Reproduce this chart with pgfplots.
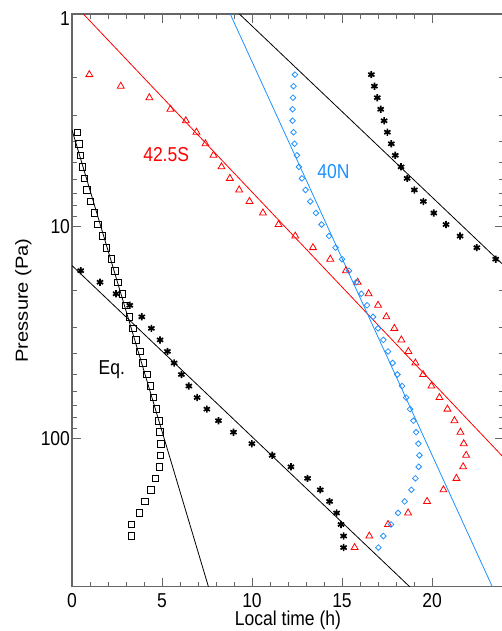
\documentclass[border=0pt]{standalone}
\usepackage{fontspec}
\setmainfont{Liberation Sans}
\usepackage{graphicx}
\usepackage{pgfplots}
\pgfplotsset{compat=1.18}
\usepackage{pgfplotstable}
\usetikzlibrary{calc}
\definecolor{idlblue}{RGB}{30,144,255}
\newcommand{\st}[1]{\scalebox{1}[1.15]{#1}}
\newcommand{\fs}{\fontsize{17.5}{21}\selectfont}

\pgfplotstableread{
x p
0.295 3.607
0.389 4.089
0.462 4.634
0.573 5.252
0.684 5.952
0.834 6.747
1.018 7.645
1.240 8.667
1.429 9.822
1.685 11.13
1.908 12.62
2.186 14.30
2.375 16.20
2.558 18.37
2.798 20.82
2.987 23.59
3.198 26.74
3.376 30.30
3.543 34.35
3.765 38.93
3.949 44.12
4.155 50.00
4.355 56.66
4.522 64.22
4.689 72.79
4.822 82.50
4.894 93.50
4.950 105.9
4.911 120.1
4.855 136.1
4.633 154.3
4.394 174.8
4.043 198.2
3.743 224.6
3.298 254.5
3.298 288.5
}\eqdata

\pgfplotstableread{
x p
0.484 16.20
1.557 18.37
2.447 20.82
3.209 23.59
3.877 26.74
4.410 30.30
4.894 34.35
5.300 38.93
5.673 44.12
6.079 50.00
6.491 56.66
6.952 64.22
7.492 72.79
8.137 82.50
8.971 93.50
9.994 105.9
11.123 120.1
12.164 136.1
13.087 154.3
13.793 174.8
14.310 198.2
14.700 224.6
14.944 254.5
15.089 288.5
15.089 327.0
}\eqbdata

\pgfplotstableread{
x p
16.63 1.931
16.80 2.189
16.96 2.480
17.15 2.811
17.34 3.186
17.52 3.607
17.74 4.089
17.96 4.634
18.28 5.252
18.62 5.952
19.02 6.747
19.52 7.645
20.10 8.667
20.78 9.822
21.56 11.13
22.49 12.62
23.54 14.30
}\eqbwrap

\pgfplotstableread{
x p
0.962 1.931
2.709 2.189
4.299 2.480
5.467 2.811
6.324 3.186
6.913 3.607
7.414 4.089
7.859 4.634
8.304 5.252
8.771 5.952
9.288 6.747
9.861 7.645
10.606 8.667
11.474 9.822
12.403 11.13
13.387 12.62
14.349 14.30
15.222 16.20
15.868 18.37
16.479 20.82
17.002 23.59
17.464 26.74
17.909 30.30
18.298 34.35
18.687 38.93
19.077 44.12
19.505 50.00
19.967 56.66
20.412 64.22
20.857 72.79
21.246 82.50
21.580 93.50
21.763 105.9
21.897 120.1
21.730 136.1
21.357 154.3
20.634 174.8
19.727 198.2
18.671 224.6
17.558 254.5
16.518 288.5
15.701 327.0
}\sdata

\pgfplotstableread{
x p
12.386 1.931
12.308 2.189
12.275 2.480
12.253 2.811
12.253 3.186
12.308 3.607
12.364 4.089
12.497 4.634
12.608 5.252
12.775 5.952
12.976 6.747
13.237 7.645
13.554 8.667
13.865 9.822
14.277 11.13
14.644 12.62
15.000 14.30
15.389 16.20
15.795 18.37
16.073 20.82
16.390 23.59
16.724 26.74
17.002 30.30
17.297 34.35
17.558 38.93
17.814 44.12
18.076 50.00
18.337 56.66
18.560 64.22
18.782 72.79
18.966 82.50
19.116 93.50
19.244 105.9
19.299 120.1
19.260 136.1
19.077 154.3
18.854 174.8
18.482 198.2
18.115 224.6
17.725 254.5
17.297 288.5
17.019 327.0
}\ndata

\begin{document}
\begin{tikzpicture}
\begin{axis}[
  scale only axis, width=432pt, height=572.7pt,
  xmin=0, xmax=24, ymin=1, ymax=500, ymode=log, y dir=reverse,
  xtick={0,5,10,15,20},
  xticklabels={\st{0},\st{5},\st{10},\st{15},\st{20}},
  minor x tick num=4,
  ytick={1,10,100},
  yticklabels={\raisebox{-5pt}[\height][\depth]{\st{1}},\st{10},\st{100}},
  tick align=inside, major tick length=9pt, minor tick length=5pt,
  axis line style={black!60, line width=1.1pt},
  every tick/.style={black!60, line width=0.9pt},
  tick label style={font=\fs, black},
  xticklabel style={yshift=-3pt},
  yticklabel style={xshift=1.5pt},
  xlabel={\st{Local time (h)}},
  ylabel={\scalebox{1.15}[1]{Pressure (Pa)}},
  label style={font=\fs},
  xlabel style={at={(axis description cs:0.5,-0.0686)}, anchor=base},
  ylabel style={at={(axis description cs:-0.1019,0.5)}, anchor=base},
]
% fit lines
\addplot[black, line width=0.8pt] coordinates {(0,3.52) (7.58,500)};
\addplot[black, line width=0.8pt] coordinates {(0,15.33) (18.76,500)};
\addplot[black, line width=0.8pt] coordinates {(9.3,1) (24,15.33)};
\addplot[red, line width=0.8pt] coordinates {(0.63,1) (24,123.6)};
\addplot[idlblue, line width=0.8pt] coordinates {(8.79,1) (23.35,500)};
% data
\addplot[only marks, mark=square, mark size=3.3pt, black, line width=0.8pt] table[x=x,y=p] {\eqdata};
\addplot[only marks, mark=asterisk, mark size=3.6pt, black, line width=1.7pt] table[x=x,y=p] {\eqbdata};
\addplot[only marks, mark=asterisk, mark size=3.6pt, black, line width=1.7pt] table[x=x,y=p] {\eqbwrap};
\addplot[only marks, mark=triangle, mark size=4pt, red, line width=0.8pt] table[x=x,y=p] {\sdata};
\addplot[only marks, mark=square, mark size=2pt, mark options={rotate=45}, idlblue, line width=0.8pt] table[x=x,y=p] {\ndata};
% annotations
\node[red, font=\fs] at (axis cs:5.23,4.61) {\st{42.5S}};
\node[idlblue, font=\fs] at (axis cs:14.52,5.55) {\st{40N}};
\node[black, font=\fs] at (axis cs:2.21,47.5) {\st{Eq.}};
\end{axis}
\pgfresetboundingbox
\path[use as bounding box] ($(current axis.south west)+(-72pt,-44.3pt)$) rectangle ($(current axis.north east)+(-3pt,14pt)$);
\end{tikzpicture}
\end{document}
